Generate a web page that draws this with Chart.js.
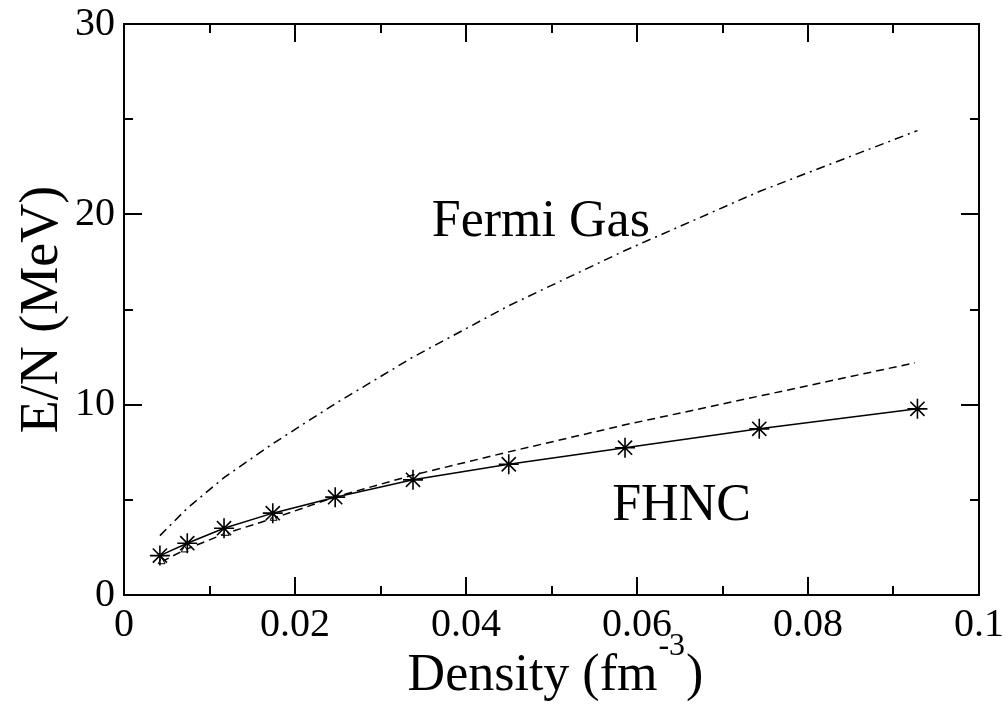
<!DOCTYPE html>
<html>
<head>
<meta charset="utf-8">
<script src="https://cdn.jsdelivr.net/npm/chart.js@4.4.0/dist/chart.umd.min.js"></script>
<style>
  html, body { margin: 0; padding: 0; background: #fff; }
  #wrap { width: 1006px; height: 710px; }
</style>
</head>
<body>
<div id="wrap"><canvas id="chart" width="1006" height="710"></canvas></div>
<script>
// FHNC results (stars, solid line)
const fhncDensity = [0.0042, 0.0074, 0.0117, 0.0174, 0.0247, 0.0338, 0.0450, 0.0586, 0.0743, 0.0928];
const fhncEnergy = [2.07, 2.72, 3.51, 4.30, 5.14, 6.05, 6.87, 7.74, 8.73, 9.78];

// dashed curve (open triangles at the low densities)
const dashDensity = [0.0044, 0.0071, 0.0119, 0.0175, 0.0247, 0.0338, 0.0450, 0.0586, 0.0743, 0.0925];
const dashEnergy = [1.75, 2.37, 3.24, 4.03, 5.15, 6.30, 7.52, 8.94, 10.45, 12.2];
const dashMarked = 4;

// free Fermi gas (dash-dot)
const fermiDensity = [0.0042, 0.0074, 0.0117, 0.0174, 0.0247, 0.0338, 0.0450, 0.0586, 0.0743, 0.0928];
const fermiEnergy = [3.12, 4.56, 6.17, 7.95, 10.05, 12.5, 15.2, 18.1, 21.2, 24.4];

const xTickLabels = ['0', '0.02', '0.04', '0.06', '0.08', '0.1'];
const yTickLabels = ['0', '10', '20', '30'];

const serif = '"Liberation Serif", "Times New Roman", serif';

const toPoints = (xs, ys) => xs.map((v, i) => ({ x: v, y: ys[i] }));

// inward ticks on all four sides, frame, labels
const framePlugin = {
  id: 'frame',
  afterDraw(chart) {
    const { ctx, chartArea: a, scales: { x, y } } = chart;
    ctx.save();
    ctx.strokeStyle = '#000';
    ctx.lineWidth = 2;
    ctx.strokeRect(a.left, a.top, a.right - a.left, a.bottom - a.top);
    ctx.beginPath();
    x.ticks.forEach((t) => {
      const px = Math.round(x.getPixelForValue(t.value));
      const len = Math.round(t.value * 100) % 2 === 0 ? 18 : 9;
      ctx.moveTo(px, a.bottom); ctx.lineTo(px, a.bottom - len);
      ctx.moveTo(px, a.top); ctx.lineTo(px, a.top + len);
    });
    y.ticks.forEach((t) => {
      const py = Math.round(y.getPixelForValue(t.value));
      const len = Math.round(t.value) % 10 === 0 ? 18 : 9;
      ctx.moveTo(a.left, py); ctx.lineTo(a.left + len, py);
      ctx.moveTo(a.right, py); ctx.lineTo(a.right - len, py);
    });
    ctx.stroke();

    // curve labels
    ctx.fillStyle = '#000';
    ctx.textBaseline = 'alphabetic';
    ctx.textAlign = 'left';
    ctx.font = '52px ' + serif;
    ctx.fillText('Fermi Gas', x.getPixelForValue(0.036), y.getPixelForValue(18.87));
    ctx.fillText('FHNC', x.getPixelForValue(0.0571), y.getPixelForValue(3.94));

    // x title with superscript
    const main = 'Density (fm';
    const sup = '-3';
    const close = ')';
    ctx.font = '52px ' + serif;
    const w1 = ctx.measureText(main).width;
    const w3 = ctx.measureText(close).width;
    ctx.font = '32px ' + serif;
    const w2 = ctx.measureText(sup).width;
    const cx = (a.left + a.right) / 2 + 3;
    const sx = cx - (w1 + w2 + w3) / 2;
    ctx.font = '52px ' + serif;
    ctx.fillText(main, sx, 690);
    ctx.font = '32px ' + serif;
    ctx.fillText(sup, sx + w1 + 1, 655);
    ctx.font = '52px ' + serif;
    ctx.fillText(close, sx + w1 + w2 + 2, 690);
    ctx.restore();
  }
};

new Chart(document.getElementById('chart'), {
  type: 'scatter',
  data: {
    datasets: [
      {
        label: 'FHNC',
        data: toPoints(fhncDensity, fhncEnergy),
        showLine: true,
        borderColor: '#000',
        borderWidth: 1.5,
        pointStyle: 'star',
        pointRadius: 10,
        pointBorderWidth: 1.6,
        pointBorderColor: '#000',
        pointBackgroundColor: '#000',
        tension: 0
      },
      {
        label: 'dashed',
        data: toPoints(dashDensity, dashEnergy),
        showLine: true,
        borderColor: '#000',
        borderWidth: 1.5,
        borderDash: [8, 5],
        pointStyle: 'triangle',
        pointRadius: dashDensity.map((d, i) => (i < dashMarked ? 4 : 0)),
        pointBorderWidth: 1,
        pointBorderColor: '#000',
        pointBackgroundColor: '#fff',
        tension: 0
      },
      {
        label: 'Fermi Gas',
        data: toPoints(fermiDensity, fermiEnergy),
        showLine: true,
        borderColor: '#000',
        borderWidth: 1.5,
        borderDash: [9, 5, 2, 5],
        pointRadius: 0,
        tension: 0
      }
    ]
  },
  options: {
    responsive: false,
    animation: false,
    layout: { padding: { top: 24, right: 27, left: 0, bottom: 0 } },
    plugins: {
      legend: { display: false },
      tooltip: { enabled: false }
    },
    scales: {
      x: {
        type: 'linear',
        min: 0,
        max: 0.1,
        grid: { display: false, drawTicks: false },
        border: { display: false },
        ticks: {
          stepSize: 0.01,
          padding: 6,
          maxRotation: 0,
          autoSkip: false,
          color: '#000',
          font: { family: serif, size: 40 },
          callback: (v) => (Math.round(v * 100) % 2 === 0 ? xTickLabels[Math.round(v * 50)] : '')
        },
        afterFit: (s) => {
          s.height = 115;
          s.paddingLeft = 0;
          s.paddingRight = 0;
        }
      },
      y: {
        type: 'linear',
        min: 0,
        max: 30,
        grid: { display: false, drawTicks: false },
        border: { display: false },
        title: {
          display: true,
          text: 'E/N (MeV)',
          color: '#000',
          font: { family: serif, size: 54 },
          padding: { top: 10, bottom: 0 }
        },
        ticks: {
          stepSize: 5,
          padding: 9,
          autoSkip: false,
          color: '#000',
          font: { family: serif, size: 40 },
          callback: (v) => (Math.round(v) % 10 === 0 ? yTickLabels[Math.round(v / 10)] : '')
        },
        afterFit: (s) => {
          s.width = 124;
          s.paddingTop = 0;
          s.paddingBottom = 0;
        }
      }
    }
  },
  plugins: [framePlugin]
});
</script>
</body>
</html>
